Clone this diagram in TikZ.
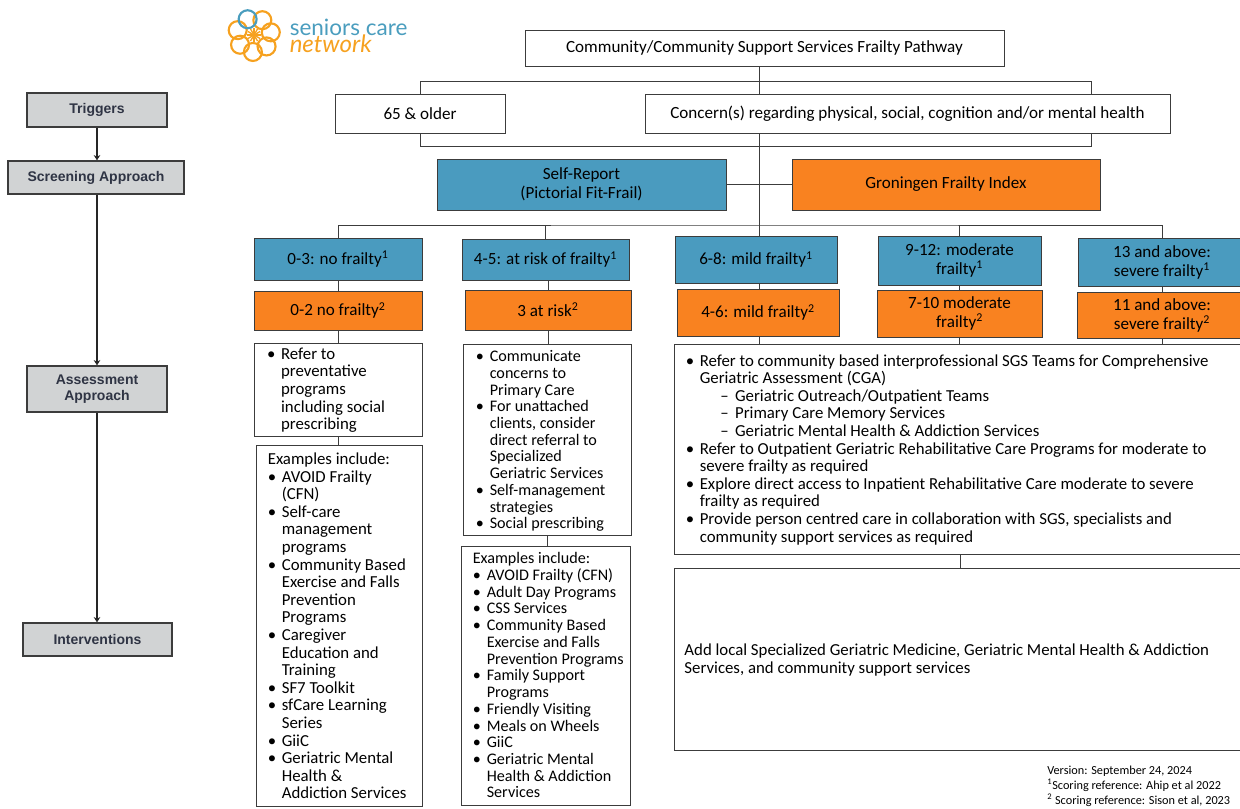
\documentclass[tikz,border=0pt]{standalone}
\usepackage{fontspec}
\setmainfont{Carlito}
\newfontfamily\headfont{Liberation Sans}
\newfontfamily\logofont{Lato}
\usetikzlibrary{arrows.meta}
\definecolor{stepgrey}{HTML}{D1D3D4}
\definecolor{steptext}{HTML}{2F3444}
\definecolor{frailblue}{HTML}{4A9BBF}
\definecolor{frailorange}{HTML}{F98220}
\definecolor{linegrey}{HTML}{3C3C3C}
\definecolor{logoblue}{HTML}{4A9DBE}
\definecolor{logoorange}{HTML}{F6A11F}
\newcommand{\li}{\makebox[10.5pt][l]{\textbullet}}
\newcommand{\cn}{\hspace*{10.5pt}}
\newcommand{\da}{\hspace*{26pt}\makebox[11pt][l]{--}}
\tikzset{
        stepbox/.style={draw=linegrey, line width=1pt, fill=stepgrey, inner sep=0pt, text=steptext, font=\headfont\bfseries\fontsize{10.5}{12}\selectfont, align=center},
        plainbox/.style={draw=linegrey, line width=0.7pt, fill=white, inner sep=0pt, font=\fontsize{12.8}{14.2}\selectfont, align=center},
        bluebox/.style={plainbox, fill=frailblue},
        orangebox/.style={plainbox, fill=frailorange},
        listbox/.style={draw=linegrey, line width=0.7pt, fill=white, inner sep=0pt},
        listtext/.style={anchor=north west, inner sep=0pt, align=left, font=\fontsize{12.6}{13.2}\selectfont},
        tighttext/.style={listtext, font=\fontsize{12.1}{12.55}\selectfont},
        link/.style={draw=linegrey, line width=0.7pt},
        steplink/.style={draw=black!85, line width=0.8pt, -{Stealth[length=4pt,width=5pt]}},
        petal/.style={draw=logoorange, line width=1.6pt}
}
\begin{document}
\begin{tikzpicture}[x=0.75pt,y=-0.75pt]
        \useasboundingbox (0,0) rectangle (1240,808);
        \clip (0,0) rectangle (1240,808);

        \node[stepbox, minimum width=105pt, minimum height=25.5pt] (triggers) at (97,110) {Triggers};
        \node[stepbox, minimum width=132pt, minimum height=24.75pt] (screening) at (96,177.5) {Screening Approach};
        \node[stepbox, minimum width=105pt, minimum height=34.5pt] (assessment) at (97,389) {Assessment\\Approach};
        \node[stepbox, minimum width=111.75pt, minimum height=24.75pt] (interventions) at (97.5,639.5) {Interventions};

        \draw[steplink] (triggers) -- (triggers |- screening.north);
        \draw[steplink] (triggers |- screening.south) -- (assessment);
        \draw[steplink] (assessment) -- (assessment |- interventions.north);

        \foreach \a in {299.4,350.9,42.3,93.7,145.1,196.6}
                \draw[petal] (254,35) ++(\a:17) circle (9);
        \draw[petal, draw=logoblue] (254,35) ++(248:17) circle (9);
        \foreach \a in {0,30,...,330}
                \draw[logoorange, line width=1pt] (254,35) -- ++(\a:7);
        \node[anchor=base west, inner sep=0pt, text=logoblue, font=\logofont\fontsize{16.9}{18}\selectfont] (logotop) at (289.5,35) {seniors care};
        \node[anchor=base west, inner sep=0pt, text=logoorange, font=\logofont\itshape\fontsize{18}{18}\selectfont] (logobot) at (289.5,52.5) {network};

        \node[plainbox, minimum width=359.25pt, minimum height=27pt] (title) at (764.5,48) {Community/Community Support Services Frailty Pathway};
        \node[plainbox, minimum width=127.5pt, minimum height=29.25pt] (older) at (420,113.5) {65 \& older};
        \node[plainbox, minimum width=393.75pt, minimum height=29.25pt] (concern) at (907.5,113.5) {Concern(s) regarding physical, social, cognition and/or mental health};
        \node[bluebox, minimum width=216.75pt, minimum height=38.25pt] (selfreport) at (581.5,184.5) {Self-Report\\(Pictorial Fit-Frail)};
        \node[orangebox, minimum width=231pt, minimum height=38.25pt] (groningen) at (946,184.5) {Groningen Frailty Index};

        \node[bluebox, minimum width=126pt, minimum height=31.5pt] (blue1) at (338,259) {0-3: no frailty\textsuperscript{1}};
        \node[bluebox, minimum width=125.25pt, minimum height=30.75pt] (blue2) at (545.5,259.5) {4-5: at risk of frailty\textsuperscript{1}};
        \node[bluebox, minimum width=121.5pt, minimum height=35.25pt] (blue3) at (756,259.5) {6-8: mild frailty\textsuperscript{1}};
        \node[bluebox, minimum width=122.25pt, minimum height=36.75pt] (blue4) at (959.5,260.5) {9-12: moderate\\frailty\textsuperscript{1}};
        \node[bluebox, minimum width=126pt, minimum height=36pt] (blue5) at (1162,262) {13 and above:\\severe frailty\textsuperscript{1}};

        \node[orangebox, minimum width=126pt, minimum height=29.25pt] (orange1) at (338,310.5) {0-2 no frailty\textsuperscript{2}};
        \node[orangebox, minimum width=124.5pt, minimum height=30pt] (orange2) at (548,310) {3 at risk\textsuperscript{2}};
        \node[orangebox, minimum width=121.5pt, minimum height=35.25pt] (orange3) at (758,312.5) {4-6: mild frailty\textsuperscript{2}};
        \node[orangebox, minimum width=123.75pt, minimum height=35.25pt] (orange4) at (959.5,313.5) {7-10 moderate\\frailty\textsuperscript{2}};
        \node[orangebox, minimum width=127.5pt, minimum height=34.5pt] (orange5) at (1162,315) {11 and above:\\severe frailty\textsuperscript{2}};

        \node[listbox, minimum width=126pt, minimum height=69.75pt] (refer1) at (338,389.5) {};
        \node[listbox, minimum width=124.5pt, minimum height=270.75pt] (examples1) at (339,625.5) {};
        \node[listbox, minimum width=126pt, minimum height=143.25pt] (refer2) at (547,439.5) {};
        \node[listbox, minimum width=126.75pt, minimum height=194.25pt] (examples2) at (545.5,675.5) {};
        \node[listbox, minimum width=429pt, minimum height=157.5pt] (referall) at (960,449) {};
        \node[listbox, minimum width=429pt, minimum height=136.5pt] (addlocal) at (960,659) {};

        \node[listtext] (refer1text) at ([shift={(10pt,-3.75pt)}]refer1.north west) {\li Refer to\\\cn preventative\\\cn programs\\\cn including social\\\cn prescribing};
        \node[listtext] (examples1text) at ([shift={(9pt,-6pt)}]examples1.north west) {Examples include:\\\li AVOID Frailty\\\cn (CFN)\\\li Self-care\\\cn management\\\cn programs\\\li Community Based\\\cn Exercise and Falls\\\cn Prevention\\\cn Programs\\\li Caregiver\\\cn Education and\\\cn Training\\\li SF7 Toolkit\\\li sfCare Learning\\\cn Series\\\li GiiC\\\li Geriatric Mental\\\cn Health \&\\\cn Addiction Services};
        \node[tighttext] (refer2text) at ([shift={(9.75pt,-5pt)}]refer2.north west) {\li Communicate\\\cn concerns to\\\cn Primary Care\\\li For unattached\\\cn clients, consider\\\cn direct referral to\\\cn Specialized\\\cn Geriatric Services\\\li Self-management\\\cn strategies\\\li Social prescribing};
        \node[tighttext] (examples2text) at ([shift={(9pt,-5pt)}]examples2.north west) {Examples include:\\\li AVOID Frailty (CFN)\\\li Adult Day Programs\\\li CSS Services\\\li Community Based\\\cn Exercise and Falls\\\cn Prevention Programs\\\li Family Support\\\cn Programs\\\li Friendly Visiting\\\li Meals on Wheels\\\li GiiC\\\li Geriatric Mental\\\cn Health \& Addiction\\\cn Services};
        \node[listtext] (referalltext) at ([shift={(9pt,-8pt)}]referall.north west) {\li Refer to community based interprofessional SGS Teams for Comprehensive\\\cn Geriatric Assessment (CGA)\\\da Geriatric Outreach/Outpatient Teams\\\da Primary Care Memory Services\\\da Geriatric Mental Health \& Addiction Services\\\li Refer to Outpatient Geriatric Rehabilitative Care Programs for moderate to\\\cn severe frailty as required\\\li Explore direct access to Inpatient Rehabilitative Care moderate to severe\\\cn frailty as required\\\li Provide person centred care in collaboration with SGS, specialists and\\\cn community support services as required};
        \node[listtext, anchor=west] (addlocaltext) at ([shift={(8pt,-0.75pt)}]addlocal.west) {Add local Specialized Geriatric Medicine, Geriatric Mental Health \& Addiction\\Services, and community support services};
        \node[anchor=north west, inner sep=0pt, align=left, font=\fontsize{9.2}{11.25}\selectfont] (version) at (1047,766) {Version: September 24, 2024\\\textsuperscript{1}Scoring reference: Ahip et al 2022\\\textsuperscript{2} Scoring reference: Sison et al, 2023};

        \coordinate (trunk) at (759,66);
        \coordinate (bustop) at (1091,81);
        \coordinate (busmid) at (1091,146);
        \coordinate (busfrail) at (759,225);

        \draw[link] (trunk) -- (trunk |- concern.north);
        \draw[link] (trunk |- concern.south) -- (trunk |- blue3.north);
        \draw[link] (older.north) |- (bustop) -- (bustop |- concern.north);
        \draw[link] (older.south) |- (busmid) -- (busmid |- concern.south);
        \draw[link] (selfreport) -- (selfreport -| groningen.west);
        \draw[link] (blue1.north) |- (busfrail) -| (blue5.north);
        \draw[link] (blue2.north) -- (blue2.north |- busfrail);
        \draw[link] (blue4.north) -- (blue4.north |- busfrail);
        \draw[link] (blue1) -- (orange1);
        \draw[link] (orange2.north) -- (orange2.north |- blue2.south);
        \draw[link] (trunk |- blue3.south) -- (trunk |- orange3.north);
        \draw[link] (blue4) -- (orange4);
        \draw[link] (blue5) -- (orange5);
        \draw[link] (orange1) -- (refer1);
        \draw[link] (refer1) -- (refer1 |- examples1.north);
        \draw[link] (orange2) -- (orange2 |- refer2.north);
        \draw[link] (refer2) -- (refer2 |- examples2.north);
        \draw[link] (trunk |- orange3.south) -- (trunk |- referall.north);
        \draw[link] (orange4.south) -- (orange4.south |- referall.north);
        \draw[link] (orange5.south) -- (orange5.south |- referall.north);
        \draw[link] (referall.south) -- (addlocal.north);
\end{tikzpicture}
\end{document}
